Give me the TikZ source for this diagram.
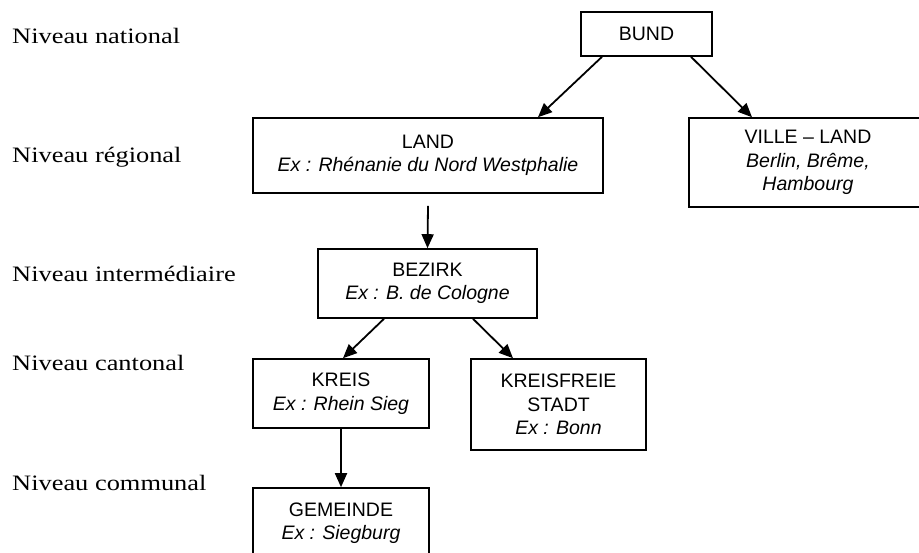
\documentclass[tikz,border=0pt]{standalone}
\usepackage{fontspec}
\setmainfont{Liberation Sans}
\newfontfamily\labfont[FakeStretch=1.2]{Liberation Serif}
\usetikzlibrary{arrows.meta,calc}
\begin{document}
\begin{tikzpicture}[x=1pt,y=-1pt,
  box/.style={draw, line width=1.6pt, rectangle, inner sep=0pt, align=center,
    font=\fontsize{19.5}{23.5}\selectfont, anchor=center},
  lvl/.style={anchor=base west, inner sep=0pt, font=\labfont\fontsize{22}{26}\selectfont},
  arr/.style={line width=1.8pt, -{Triangle[length=14pt,width=12pt]}}]
\useasboundingbox (0,0) rectangle (919,552);

% level labels
\node[lvl] (n1) at (12,43)  {Niveau national};
\node[lvl] (n2) at (12,162) {Niveau régional};
\node[lvl] (n3) at (12,281) {Niveau intermédiaire};
\node[lvl] (n4) at (12,370) {Niveau cantonal};
\node[lvl] (n5) at (12,490) {Niveau communal};

% boxes
\node[box, minimum width=131pt, minimum height=44pt] (bund) at (646.5,34) {BUND};
\node[box, minimum width=350pt, minimum height=75pt] (land) at (428,155.5)
  {LAND\\\textit{Ex : Rhénanie du Nord Westphalie}};
\node[box, minimum width=238pt, minimum height=89pt] (ville) at (808,162.5)
  {VILLE – LAND\\\textit{Berlin, Brême,}\\\textit{Hambourg}};
\node[box, minimum width=219pt, minimum height=69pt] (bezirk) at (427.5,283.5)
  {BEZIRK\\\textit{Ex : B. de Cologne}};
\node[box, minimum width=176pt, minimum height=69pt] (kreis) at (341,393.5)
  {KREIS\\\textit{Ex : Rhein Sieg}};
\node[box, minimum width=175pt, minimum height=91pt] (kfs) at (558.5,404.5)
  {KREISFREIE\\STADT\\\textit{Ex : Bonn}};
\node[box, minimum width=176pt, minimum height=70pt] (gem) at (341,523)
  {GEMEINDE\\\textit{Ex : Siegburg}};

% arrows
\draw[arr] ([xshift=-44.5pt]bund.south) -- ([xshift=110pt]land.north);
\draw[arr] ([xshift=44.5pt]bund.south) -- ([xshift=-56pt]ville.north);
\draw[arr] ([yshift=-12pt]land.south) -- (bezirk.north);
\draw[arr] ([xshift=-43.5pt]bezirk.south) -- ([xshift=2pt]kreis.north);
\draw[arr] ([xshift=45.5pt]bezirk.south) -- ([xshift=-45.5pt]kfs.north);
\draw[arr] (kreis.south) -- (gem.north);
\end{tikzpicture}
\end{document}
